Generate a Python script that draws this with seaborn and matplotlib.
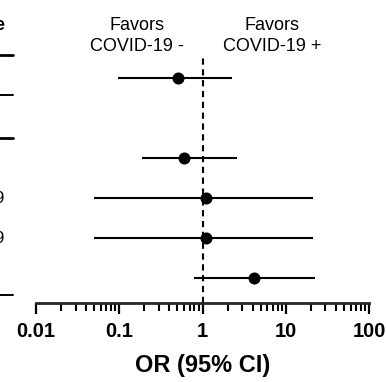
import numpy as np
import pandas as pd
import matplotlib
matplotlib.use('Agg')
import matplotlib.pyplot as plt
import seaborn as sns
from matplotlib.lines import Line2D
from matplotlib.ticker import LogLocator, NullFormatter, FixedFormatter, FixedLocator

# odds ratios (row 1 left empty in the source table)
row = [0, 2, 3, 4, 5]
odds = [0.51, 0.60, 1.10, 1.10, 4.16]
ci_low = [0.097, 0.19, 0.05, 0.05, 0.79]
ci_high = [2.26, 2.6, 21.2, 21.2, 22.4]
ticks = [0.01, 0.1, 1, 10, 100]
tick_labels = ['0.01', '0.1', '1', '10', '100']

df = pd.DataFrame({'row': row, 'OR': odds, 'lo': ci_low, 'hi': ci_high})

sns.set_style('white')
plt.rcParams['font.family'] = ['Liberation Sans', 'DejaVu Sans']
plt.rcParams['text.color'] = 'black'
plt.rcParams['axes.labelcolor'] = 'black'
plt.rcParams['xtick.color'] = 'black'

W, H = 386, 382
fig = plt.figure(figsize=(W / 100, H / 100), dpi=100)
ax = fig.add_axes([36 / W, (H - 303) / H, (369 - 36) / W, (303 - 58) / H])

ax.hlines(df['row'], df['lo'], df['hi'], color='black', lw=1.5, zorder=2)
sns.scatterplot(data=df, x='OR', y='row', color='black', s=75, edgecolor='black',
                linewidth=0, ax=ax, zorder=3, legend=False)
ax.axvline(1, color='black', lw=1.5, ls=(0, (3, 2.2)), zorder=1)

ax.set_xscale('log')
ax.set_xlim(0.01, 100)
ax.set_ylim(5.625, -0.5)
ax.set_yticks([])
ax.set_ylabel('')
ax.xaxis.set_major_locator(FixedLocator(ticks))
ax.xaxis.set_major_formatter(FixedFormatter(tick_labels))
ax.xaxis.set_minor_locator(LogLocator(base=10, subs=np.arange(2, 10)))
ax.xaxis.set_minor_formatter(NullFormatter())
for lab in ax.get_xticklabels():
    lab.set_fontweight('bold')
ax.tick_params(axis='x', which='major', length=8, width=1.6, labelsize=14.5, pad=6,
               direction='out', bottom=True)
ax.tick_params(axis='x', which='minor', length=5.5, width=1.5, direction='out', bottom=True)
ax.set_xlabel('OR (95% CI)', fontsize=17, fontweight='bold', labelpad=9)
for s in ['top', 'left', 'right']:
    ax.spines[s].set_visible(False)
ax.spines['bottom'].set_linewidth(2)
ax.patch.set_alpha(0)

fig.text(137 / W, 1 - 36 / H, 'Favors\nCOVID-19 -', ha='center', va='center',
         fontsize=13, linespacing=1.25)
fig.text(272 / W, 1 - 36 / H, 'Favors\nCOVID-19 +', ha='center', va='center',
         fontsize=13, linespacing=1.25)

# fragments of the neighbouring table at the left edge
fig.text(4 / W, 1 - 26 / H, 'e', ha='right', va='center', fontsize=13, fontweight='bold')
fig.text(4 / W, 1 - 198 / H, '9', ha='right', va='center', fontsize=12)
fig.text(4 / W, 1 - 238 / H, '9', ha='right', va='center', fontsize=12)
for y, lw in [(55, 2.0), (95, 1.4), (138, 2.0), (295, 1.4)]:
    fig.add_artist(Line2D([0, 13 / W], [1 - y / H, 1 - y / H], color='black', lw=lw))

fig.savefig('out.png', dpi=100)
